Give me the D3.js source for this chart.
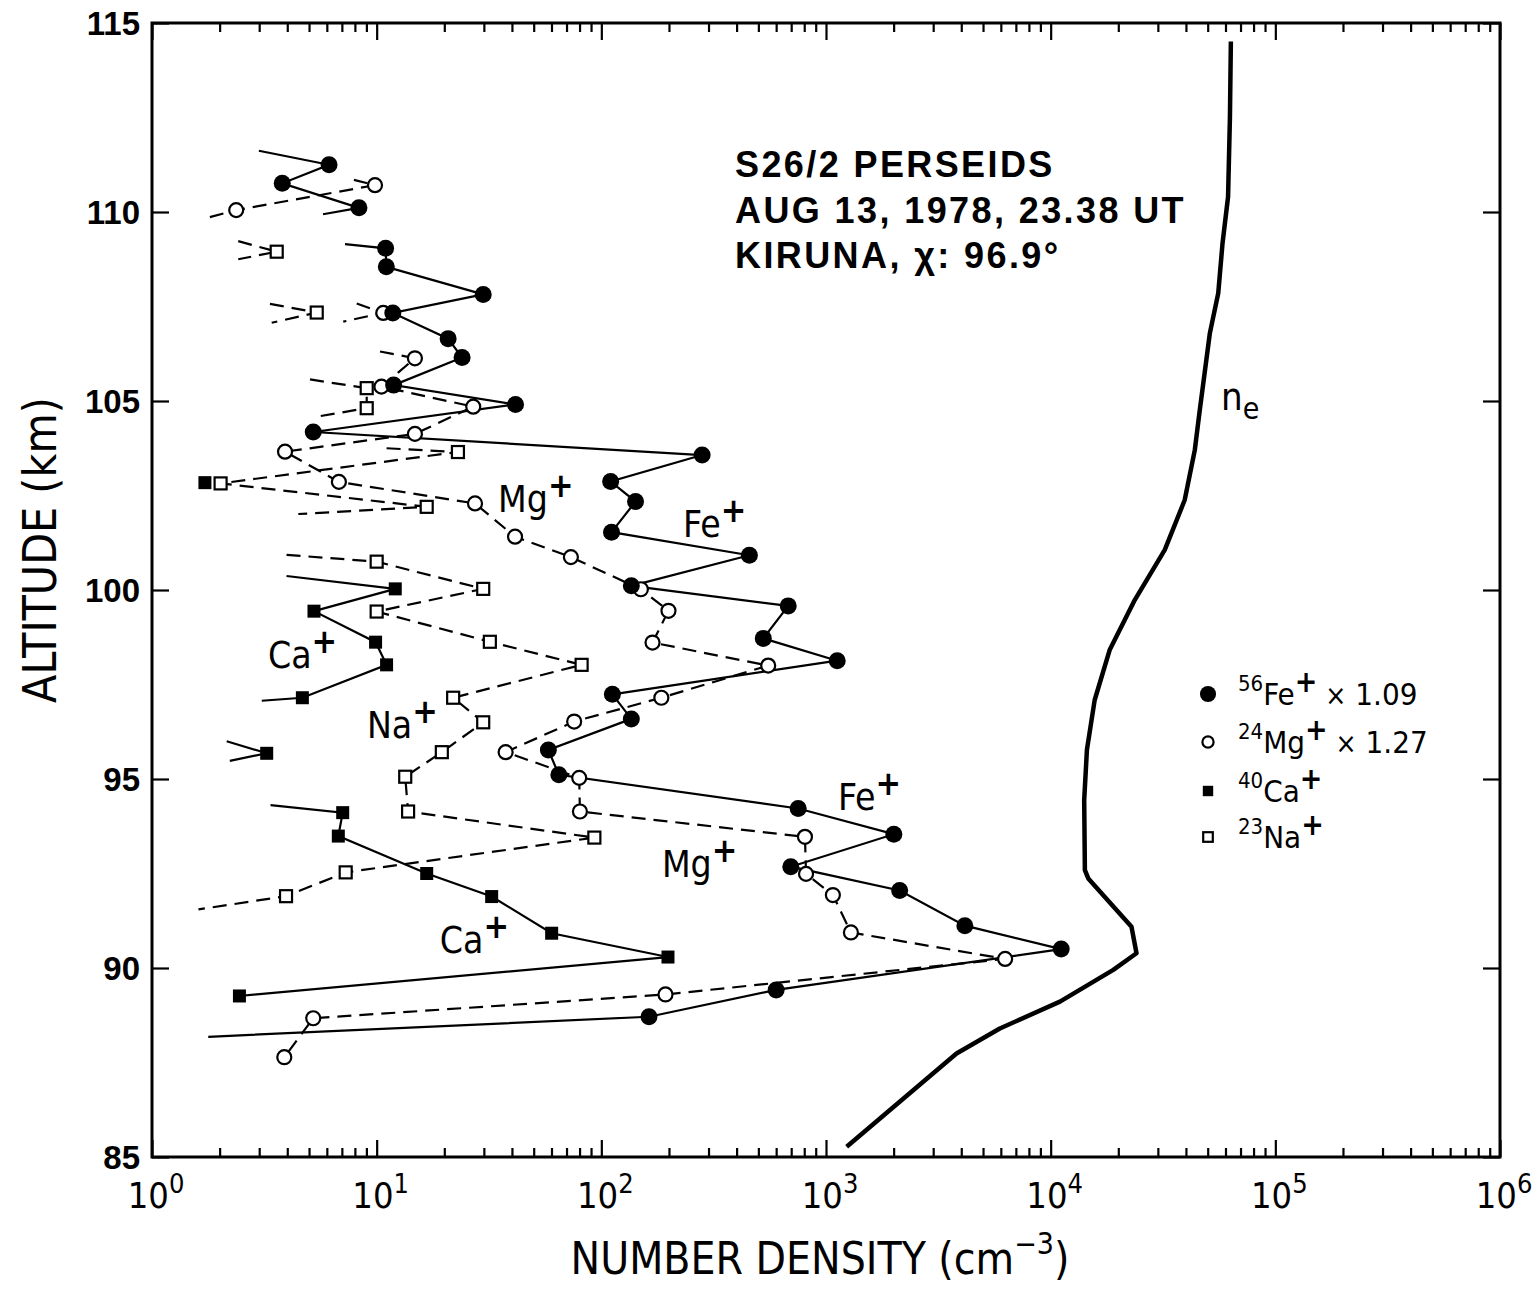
<!DOCTYPE html>
<html>
<head>
<meta charset="utf-8">
<script src="https://cdn.jsdelivr.net/npm/d3@7"></script>
<style>
  body { margin: 0; background: #fff; }
  svg { display: block; }
</style>
</head>
<body>
<svg id="chart" width="1538" height="1293"></svg>
<script>
// Ion number densities, rocket S26/2 (Perseids 1978).
// Each run is one connected trace: [density cm^-3, altitude km, measured].
// measured = 1 draws the point symbol; 0 marks where a trace leaves toward
// a point below the plotted range (line end only).
const feRuns = [
  [[2.99,111.62,0],[6.14,111.25,1],[3.80,110.76,1],[8.34,110.11,1],[5.77,109.94,0]],
  [[7.23,109.15,0],[10.96,109.04,1],[11.04,108.55,1],[29.8,107.82,1],[11.8,107.33,1],
   [20.8,106.65,1],[24.0,106.15,1],[11.9,105.42,1],[41.5,104.91,1],[5.22,104.18,1],
   [281,103.57,1],[110,102.87,1],[142,102.34,1],[111,101.53,1],[456,100.92,1],
   [136,100.11,1],[679,99.58,1],[526,98.72,1],[1122,98.13,1],[112,97.24,1],
   [136,96.59,1],[58.1,95.77,1],[64.7,95.11,1],[752,94.22,1],[2004,93.54,1],
   [697,92.68,1],[2128,92.05,1],[4150,91.12,1],[11140,90.50,1],[600,89.42,1],
   [163,88.71,1],[1.78,88.18,0]]
];

const mgRuns = [
  [[7.92,110.85,0],[9.83,110.71,1],[2.37,110.05,1],[1.72,109.83,0]],
  [[8.15,107.58,0],[10.7,107.33,1],[7.10,107.10,0]],
  [[10.35,106.31,0],[14.8,106.13,1],[10.5,105.38,1],[26.9,104.85,1],[14.8,104.13,1],
   [3.91,103.66,1],[6.79,102.86,1],[27.4,102.29,1],[41.3,101.41,1],[73.2,100.87,1],
   [150,100.02,1],[199,99.45,1],[169,98.61,1],[553,98.00,1],[185,97.15,1],
   [75.7,96.52,1],[37.5,95.71,1],[79.7,95.03,1],[80.3,94.14,1],[806,93.47,1],
   [815,92.49,1],[1073,91.93,1],[1291,90.94,1],[6270,90.24,1],[193,89.30,1],
   [5.22,88.67,1],[3.88,87.64,1]]
];

const caRuns = [
  [[1.72,102.84,1]],
  [[3.97,100.37,0],[12.1,100.03,1],[5.26,99.44,1],[9.89,98.62,1],[11.07,98.02,1],
   [4.67,97.15,1],[3.08,97.07,0]],
  [[2.15,96.00,0],[3.24,95.68,1],[2.22,95.48,0]],
  [[3.37,94.31,0],[7.06,94.11,1],[6.75,93.49,1],[16.7,92.50,1],[32.5,91.89,1],
   [60.1,90.92,1],[198,90.29,1],[2.45,89.26,1]]
];

const naRuns = [
  [[2.42,109.23,0],[3.59,108.95,1],[2.42,108.75,0]],
  [[3.35,107.57,0],[5.41,107.34,1],[3.41,107.07,0]],
  [[5.05,105.57,0],[9.03,105.34,1],[9.03,104.81,1],[5.22,104.57,0]],
  [[11.07,103.75,0],[23.0,103.65,1],[2.02,102.82,1],[16.7,102.20,1],[4.48,102.01,0]],
  [[3.97,100.93,0],[10.0,100.75,1],[29.8,100.03,1],[10.0,99.43,1],[31.9,98.63,1],
   [81.7,98.02,1],[21.9,97.15,1],[29.8,96.50,1],[19.5,95.71,1],[13.4,95.06,1],
   [13.8,94.14,1],[93.1,93.45,1],[7.28,92.53,1],[3.95,91.90,1],[1.61,91.55,0]]
];

// Electron density profile n_e: [density cm^-3, altitude km]
const neProfile = [
  [63400,114.51],[62800,112.52],[61600,110.40],[58200,109.17],[55700,107.85],
  [51100,106.79],[46100,104.76],[43800,103.70],[39500,102.38],[32200,101.06],
  [23700,99.74],[18300,98.41],[15700,97.09],[14500,95.77],[14100,94.44],
  [14200,92.59],[14700,92.37],[22900,91.09],[24100,90.39],[19000,89.95],
  [11000,89.11],[5940,88.40],[3810,87.74],[1236,85.27]
];

// Axis ticks
const altTicks = [85, 90, 95, 100, 105, 110, 115];
const decadeExponents = [0, 1, 2, 3, 4, 5, 6];

// In-plot species labels: [name, density, altitude]
const speciesLabels = [
  ["Mg", 34.7, 102.06], ["Fe", 231, 101.40], ["Ca", 3.28, 97.94], ["Na", 9.05, 96.08],
  ["Fe", 1130, 94.18], ["Mg", 186, 92.41], ["Ca", 19.1, 90.40]
];

// Legend entries: [mass number, ion, scale factor, symbol]
const legendItems = [
  ["56", "Fe", "1.09", "fe"],
  ["24", "Mg", "1.27", "mg"],
  ["40", "Ca", "", "ca"],
  ["23", "Na", "", "na"]
];

const titleLines = ["S26/2 PERSEIDS", "AUG 13, 1978, 23.38 UT", "KIRUNA, χ: 96.9°"];

// ---------------------------------------------------------------------
const svg = d3.select("#chart");
const plotL = 152, plotR = 1500, plotT = 23, plotB = 1157;
const labelFont = "'DejaVu Sans Condensed', 'DejaVu Sans', sans-serif";
const boldFont = "'Liberation Sans', Arial, sans-serif";

const x = d3.scaleLog().domain([1, 1e6]).range([plotL, plotR]);
const y = d3.scaleLinear().domain([85, 115]).range([plotB, plotT]);

const line = d3.line().x(d => x(d[0])).y(d => y(d[1]));

// Minor log ticks 2..9 in each decade
const minorTicks = [];
for (let e = 0; e < 6; e++) for (let m = 2; m <= 9; m++) minorTicks.push(m * Math.pow(10, e));
const decades = decadeExponents.map(e => Math.pow(10, e));

function styleAxis(g) {
  g.select(".domain").remove();
  g.selectAll(".tick line").attr("stroke", "#000").attr("stroke-width", 2.2);
}

// x axes (bottom and top), ticks pointing inward
svg.append("g").attr("transform", `translate(0,${plotB})`)
  .call(d3.axisBottom(x).tickValues(minorTicks).tickSize(-9).tickFormat("")).call(styleAxis);
svg.append("g").attr("transform", `translate(0,${plotB})`)
  .call(d3.axisBottom(x).tickValues(decades).tickSize(-17).tickFormat("")).call(styleAxis);
svg.append("g").attr("transform", `translate(0,${plotT})`)
  .call(d3.axisTop(x).tickValues(minorTicks).tickSize(-9).tickFormat("")).call(styleAxis);
svg.append("g").attr("transform", `translate(0,${plotT})`)
  .call(d3.axisTop(x).tickValues(decades).tickSize(-17).tickFormat("")).call(styleAxis);

// y axes (left with labels, right plain)
const yLeft = svg.append("g").attr("transform", `translate(${plotL},0)`)
  .call(d3.axisLeft(y).tickValues(altTicks).tickSize(-17).tickPadding(12).tickFormat(d3.format("d")))
  .call(styleAxis);
yLeft.selectAll(".tick text")
  .attr("font-family", boldFont).attr("font-weight", "bold").attr("font-size", 33)
  .attr("fill", "#000").attr("dy", "0.36em");
svg.append("g").attr("transform", `translate(${plotR},0)`)
  .call(d3.axisRight(y).tickValues(altTicks).tickSize(-17).tickFormat("")).call(styleAxis);

// frame
svg.append("rect").attr("x", plotL).attr("y", plotT)
  .attr("width", plotR - plotL).attr("height", plotB - plotT)
  .attr("fill", "none").attr("stroke", "#000").attr("stroke-width", 3);

// decade labels 10^n
const xLab = svg.append("g").attr("font-family", labelFont).attr("font-size", 36).attr("fill", "#000");
decadeExponents.forEach(e => {
  const t = xLab.append("text").attr("x", x(Math.pow(10, e)) + 4).attr("y", 1208)
    .attr("text-anchor", "middle");
  t.append("tspan").text("10");
  t.append("tspan").attr("dy", -15).attr("font-size", 27).text(e);
});

// axis titles
const xt = svg.append("text").attr("x", 820).attr("y", 1274).attr("text-anchor", "middle")
  .attr("font-family", labelFont).attr("font-size", 44).attr("fill", "#000");
xt.append("tspan").text("NUMBER DENSITY (cm");
xt.append("tspan").attr("dy", -20).attr("font-size", 30).text("−3");
xt.append("tspan").attr("dy", 20).text(")");

svg.append("text").attr("transform", "translate(56,550) rotate(-90)")
  .attr("text-anchor", "middle").attr("font-family", labelFont).attr("font-size", 46)
  .attr("fill", "#000").text("ALTITUDE (km)");

// ---------------------------------------------------------------------
// profiles
const plot = svg.append("g");
const dash = "14,8";

function drawTraces(runs, dashed) {
  plot.append("g").selectAll("path").data(runs.filter(r => r.length > 1)).join("path")
    .attr("d", line).attr("fill", "none").attr("stroke", "#000")
    .attr("stroke-width", 2.2).attr("stroke-dasharray", dashed ? dash : null);
}

drawTraces(feRuns, false);
drawTraces(mgRuns, true);
drawTraces(caRuns, false);
drawTraces(naRuns, true);

plot.append("path").datum(neProfile).attr("d", line)
  .attr("fill", "none").attr("stroke", "#000").attr("stroke-width", 4.5)
  .attr("stroke-linejoin", "round");

function symbol(g, kind, cx, cy, s) {
  if (kind === "fe") {
    g.append("circle").attr("cx", cx).attr("cy", cy).attr("r", 8.5 * s).attr("fill", "#000");
  } else if (kind === "mg") {
    g.append("circle").attr("cx", cx).attr("cy", cy).attr("r", 7 * s)
      .attr("fill", "#fff").attr("stroke", "#000").attr("stroke-width", 2.2);
  } else if (kind === "ca") {
    const a = 13 * s;
    g.append("rect").attr("x", cx - a / 2).attr("y", cy - a / 2).attr("width", a).attr("height", a)
      .attr("fill", "#000");
  } else {
    const a = 12 * s;
    g.append("rect").attr("x", cx - a / 2).attr("y", cy - a / 2).attr("width", a).attr("height", a)
      .attr("fill", "#fff").attr("stroke", "#000").attr("stroke-width", 2.2);
  }
}

function drawMarks(runs, kind) {
  const g = plot.append("g");
  runs.flat().filter(d => d[2] === 1).forEach(d => symbol(g, kind, x(d[0]), y(d[1]), 1));
}
drawMarks(naRuns, "na");
drawMarks(caRuns, "ca");
drawMarks(mgRuns, "mg");
drawMarks(feRuns, "fe");

// species labels
const sl = svg.append("g").attr("font-family", labelFont).attr("font-size", 37).attr("fill", "#000");
speciesLabels.forEach(([name, v, h]) => {
  const t = sl.append("text").attr("x", x(v)).attr("y", y(h));
  t.append("tspan").text(name);
  t.append("tspan").attr("dy", -15).attr("font-size", 34).attr("font-weight", "bold").text("+");
});

// n_e label
const neLab = svg.append("text").attr("x", 1221).attr("y", 410)
  .attr("font-family", labelFont).attr("font-size", 38).attr("fill", "#000");
neLab.append("tspan").text("n");
neLab.append("tspan").attr("dy", 9).attr("font-size", 30).text("e");

// flight info
const info = svg.append("g").attr("font-family", boldFont).attr("font-weight", "bold")
  .attr("font-size", 36).attr("letter-spacing", 2.4).attr("fill", "#000");
titleLines.forEach((s, i) => {
  info.append("text").attr("x", 735).attr("y", 177 + i * 45.5).text(s);
});

// legend
const lg = svg.append("g").attr("font-family", labelFont).attr("font-size", 31).attr("fill", "#000");
const legendRows = [705, 753, 802, 848];
legendItems.forEach(([mass, ion, factor, kind], i) => {
  const yy = legendRows[i];
  symbol(lg, kind, 1208, yy - 11, kind === "fe" ? 0.95 : 0.8);
  const t = lg.append("text").attr("x", 1238).attr("y", yy);
  t.append("tspan").attr("dy", -14).attr("font-size", 22).text(mass);
  t.append("tspan").attr("dy", 14).text(ion);
  t.append("tspan").attr("dy", -13).attr("font-size", 30).attr("font-weight", "bold").text("+");
  if (factor) {
    t.append("tspan").attr("dy", 13).attr("font-size", 28).text(" ×");
    t.append("tspan").text(" " + factor);
  }
});
</script>
</body>
</html>
